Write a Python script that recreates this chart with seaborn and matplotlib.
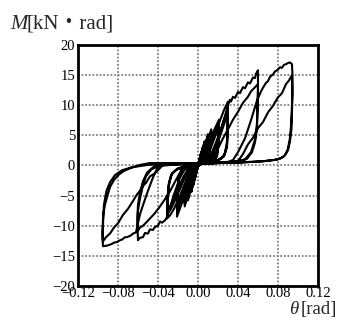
import numpy as np
import pandas as pd
import matplotlib
matplotlib.use("Agg")
import matplotlib.pyplot as plt
import seaborn as sns

# ---- data (rotation theta [rad], moment M [kN*rad]) ----
theta_a1 = [0, 0.0017, 0.0033, 0.0025, 0.0, -0.0017, -0.0033, -0.0025, 0.0, 0.0017, 0.0033, 0.0025,
            0.0, -0.0017, -0.0033, -0.0025, 0.0]
m_a1 = [0, 1.2, 2.2, 1.3, -0.1, -1.2, -2.4, -1.4, 0.1, 1.1, 2.1, 1.2, -0.1, -1.2, -2.3, -1.3, 0.0]

theta_a2 = [0.0025, 0.005, 0.004, 0.0, -0.0025, -0.005, -0.004, 0.0, 0.0025, 0.005, 0.004, 0.0,
            -0.0025, -0.005, -0.004, 0.0]
m_a2 = [1.6, 3.1, 1.8, 0.0, -1.6, -3.4, -2.0, 0.1, 1.5, 3.0, 1.7, 0.0, -1.5, -3.3, -1.9, 0.1]

theta_a3 = [0.003, 0.0067, 0.0055, 0.002, -0.001, -0.004, -0.0067, -0.0055, -0.002, 0.001, 0.004,
            0.0067, 0.0055, 0.002, -0.001, -0.004, -0.0067, -0.0055, -0.002, 0.0]
m_a3 = [1.8, 4.0, 2.2, 0.3, -0.3, -2.4, -4.4, -2.4, -0.3, 0.3, 2.3, 3.9, 2.1, 0.3, -0.3, -2.5,
        -4.3, -2.3, -0.2, 0.1]

theta_a4 = [0.004, 0.007, 0.010, 0.0088, 0.006, 0.0, -0.003, -0.0065, -0.010, -0.0088, -0.006, 0.0,
            0.003, 0.0065, 0.010, 0.0088, 0.006, 0.0, -0.003, -0.0065, -0.010, -0.0088, -0.006, 0.0,
            0.003, 0.0065, 0.010, 0.0088, 0.006, 0.0, -0.003, -0.0065, -0.010, -0.0088, -0.006, -0.001]
m_a4 = [1.6, 3.4, 5.2, 2.6, 0.6, 0.2, -0.8, -3.4, -5.8, -2.9, -0.6, -0.1,
        0.9, 3.0, 4.9, 2.4, 0.5, 0.2, -0.9, -3.3, -5.5, -2.7, -0.5, -0.1,
        0.9, 2.9, 4.8, 2.3, 0.5, 0.2, -0.9, -3.2, -5.4, -2.6, -0.5, -0.1]

theta_a5 = [0.003, 0.008, 0.0133, 0.012, 0.009, 0.003, -0.003, -0.008, -0.0133, -0.012, -0.009, -0.003,
            0.004, 0.009, 0.0133, 0.012, 0.009, 0.003, -0.004, -0.009, -0.0133, -0.012, -0.009, -0.003,
            0.005, 0.010, 0.0133, 0.012, 0.009, 0.003, -0.005, -0.010, -0.0133, -0.012, -0.009, -0.002]
m_a5 = [0.5, 3.2, 6.0, 3.0, 0.7, 0.2, -0.5, -3.6, -6.8, -3.4, -0.7, -0.1,
        0.5, 2.9, 5.6, 2.8, 0.7, 0.3, -0.6, -3.7, -6.4, -3.2, -0.6, 0.0,
        0.7, 3.6, 5.4, 2.7, 0.6, 0.3, -0.7, -4.0, -6.2, -3.0, -0.6, 0.0]

theta_a6 = [0.004, 0.010, 0.016, 0.021, 0.0205, 0.019, 0.016, 0.008, 0.0, -0.005, -0.011, -0.016,
            -0.021, -0.0205, -0.019, -0.016, -0.008, 0.0,
            0.006, 0.012, 0.017, 0.021, 0.0205, 0.019, 0.016, 0.008, 0.0, -0.007, -0.013, -0.018,
            -0.021, -0.0205, -0.019, -0.015, -0.007, 0.0,
            0.008, 0.013, 0.018, 0.021, 0.0205, 0.019, 0.015, 0.007, 0.0, -0.008, -0.014, -0.018,
            -0.021, -0.0205, -0.019, -0.015, -0.007, 0.0]
m_a6 = [0.6, 3.3, 5.8, 7.6, 4.5, 1.8, 0.8, 0.4, 0.2, -0.6, -3.5, -6.2, -8.5, -5.0, -2.0, -0.8, -0.3, 0.1,
        0.7, 3.2, 5.4, 6.8, 4.0, 1.6, 0.7, 0.4, 0.2, -0.7, -3.5, -6.0, -7.6, -4.5, -1.8, -0.7, -0.2, 0.1,
        0.8, 3.0, 5.2, 6.5, 3.8, 1.5, 0.7, 0.4, 0.2, -0.8, -3.6, -5.8, -7.2, -4.2, -1.7, -0.6, -0.2, 0.1]

theta_003 = [0.002, 0.007, 0.012, 0.017, 0.022, 0.026, 0.030, 0.0298, 0.029, 0.027, 0.023, 0.015, 0.0,
             -0.004, -0.009, -0.014, -0.019, -0.024, -0.028, -0.031, -0.0305, -0.029, -0.027, -0.022,
             -0.012, 0.0,
             0.008, 0.013, 0.018, 0.022, 0.026, 0.030, 0.0297, 0.029, 0.026, 0.020, 0.010, 0.0,
             -0.008, -0.013, -0.018, -0.023, -0.027, -0.031, -0.0305, -0.029, -0.026, -0.020, -0.010, 0.0,
             0.010, 0.015, 0.020, 0.024, 0.027, 0.030, 0.0297, 0.029, 0.026, 0.020, 0.010, 0.0,
             -0.010, -0.015, -0.020, -0.024, -0.028, -0.031, -0.0305, -0.029, -0.026, -0.020, -0.010, 0.0]
m_003 = [0.3, 1.2, 3.0, 5.2, 7.4, 9.2, 10.6, 7.5, 4.0, 2.0, 1.1, 0.6, 0.3,
         -0.4, -1.6, -3.4, -5.4, -7.2, -8.3, -8.8, -6.2, -3.3, -1.6, -0.7, -0.1, 0.2,
         0.5, 1.8, 3.8, 5.6, 7.6, 9.2, 6.3, 3.3, 1.6, 0.9, 0.5, 0.3,
         -0.6, -2.0, -3.9, -5.8, -7.2, -8.1, -5.8, -3.0, -1.4, -0.5, 0.0, 0.2,
         0.6, 1.9, 3.9, 5.8, 7.3, 8.7, 5.9, 3.0, 1.5, 0.8, 0.5, 0.3,
         -0.6, -2.0, -3.9, -5.5, -6.9, -7.6, -5.4, -2.8, -1.3, -0.5, 0.0, 0.3]

theta_006 = [0.0, 0.008, 0.015, 0.022, 0.027, 0.030, 0.032, 0.033, 0.035, 0.037, 0.040, 0.042,
             0.045, 0.047, 0.050, 0.052, 0.055, 0.057, 0.058, 0.060,
             0.0600, 0.0595, 0.059, 0.057, 0.054, 0.049, 0.040, 0.020, 0.0, -0.008,
             -0.012, -0.018, -0.024, -0.028, -0.031, -0.033, -0.036, -0.038, -0.040, -0.043, -0.045,
             -0.048, -0.050, -0.053, -0.055, -0.058, -0.060,
             -0.0605, -0.060, -0.058, -0.055, -0.052, -0.047, -0.040, -0.020, 0.0, 0.012,
             0.015, 0.020, 0.025, 0.030, 0.035, 0.040, 0.045, 0.050, 0.053, 0.056, 0.060,
             0.0598, 0.059, 0.057, 0.053, 0.047, 0.035, 0.0, -0.015,
             -0.018, -0.023, -0.028, -0.033, -0.038, -0.043, -0.048, -0.052, -0.055, -0.058, -0.060,
             -0.0605, -0.060, -0.058, -0.055, -0.051, -0.045, -0.035, 0.0, 0.030]
m_006 = [0.3, 0.8, 2.2, 5.2, 8.2, 10.0, 10.9, 10.6, 11.4, 11.2, 12.2, 12.0,
         13.0, 12.8, 13.8, 13.6, 14.6, 14.5, 15.2, 15.8,
         12.5, 9.0, 6.0, 3.8, 2.2, 1.1, 0.6, 0.4, 0.2, 0.1,
         -0.3, -2.0, -4.8, -7.0, -8.6, -9.1, -9.5, -9.3, -10.0, -10.2, -10.7, -10.6, -11.3, -11.2,
         -11.9, -12.0, -12.4,
         -10.0, -7.5, -5.5, -3.3, -1.8, -0.7, -0.1, 0.2, 0.3, 0.5,
         1.3, 2.8, 4.5, 6.0, 7.6, 8.9, 10.4, 11.4, 12.3, 12.8, 13.5,
         10.5, 7.0, 4.3, 2.2, 1.0, 0.6, 0.3, 0.0,
         -1.2, -2.7, -4.3, -5.6, -6.8, -7.9, -8.8, -9.5, -10.0, -10.3, -10.8,
         -8.5, -6.5, -4.5, -2.6, -1.2, -0.3, 0.1, 0.4, 0.6]

theta_009 = [0.035, 0.040, 0.047, 0.053, 0.0587, 0.063, 0.065, 0.068, 0.070, 0.072, 0.075, 0.077,
             0.080, 0.082, 0.084, 0.086, 0.088, 0.090, 0.092, 0.094, 0.0945,
             0.0943, 0.0938, 0.093, 0.0918, 0.0898, 0.087, 0.083, 0.076, 0.065, 0.045, 0.020,
             0.0, -0.020, -0.035,
             -0.040, -0.045, -0.050, -0.055, -0.058, -0.062, -0.065, -0.067, -0.071, -0.073,
             -0.076, -0.078, -0.081, -0.084, -0.086, -0.089, -0.091, -0.095,
             -0.0955, -0.095, -0.0945, -0.093, -0.090, -0.088, -0.084, -0.079, -0.074, -0.067,
             -0.058, -0.048, -0.030, 0.0, 0.030, 0.040,
             0.045, 0.050, 0.055, 0.060, 0.065, 0.070, 0.075, 0.080, 0.084, 0.088, 0.091, 0.094,
             0.0945, 0.094, 0.0935, 0.092, 0.090, 0.086, 0.080, 0.065, 0.040, 0.0, -0.035,
             -0.040, -0.044, -0.048, -0.052, -0.055, -0.058, -0.061, -0.065, -0.070, -0.075,
             -0.080, -0.084, -0.088, -0.092, -0.095,
             -0.0955, -0.095, -0.094, -0.0915, -0.088, -0.083, -0.076, -0.066, -0.050, -0.030, 0.0]
m_009 = [0.9, 2.2, 4.5, 7.5, 10.6, 12.3, 12.9, 13.7, 14.0, 14.7, 15.1, 15.6,
         15.9, 16.3, 16.2, 16.7, 16.8, 17.0, 17.1, 16.8, 15.0,
         12.0, 9.0, 6.5, 4.4, 2.7, 1.7, 1.2, 0.9, 0.7, 0.5, 0.4,
         0.3, 0.3, 0.3,
         -0.2, -2.0, -4.2, -6.6, -8.1, -11.1, -11.3, -11.6, -11.9, -11.9,
         -12.3, -12.4, -12.7, -12.8, -13.0, -13.2, -13.3, -13.4,
         -12.0, -10.0, -8.0, -6.5, -4.7, -3.6, -2.4, -1.5, -0.9, -0.4,
         0.1, 0.4, 0.4, 0.4, 0.5, 0.7,
         1.9, 3.5, 4.6, 6.2, 7.2, 8.8, 9.9, 11.3, 12.0, 13.5, 14.1, 15.0,
         12.0, 9.0, 6.0, 4.0, 2.5, 1.5, 1.0, 0.7, 0.5, 0.3, 0.1,
         -0.8, -1.4, -1.8, -2.9, -3.4, -4.2, -4.8, -5.9, -7.2, -8.2,
         -9.6, -10.3, -11.3, -11.9, -12.6,
         -11.0, -9.0, -6.5, -4.2, -2.8, -1.6, -0.8, -0.3, 0.1, 0.2, 0.3]

x_ticks = [-0.12, -0.08, -0.04, 0.00, 0.04, 0.08, 0.12]
x_tick_labels = ["\u22120.12", "\u22120.08", "\u22120.04", "0.00", "0.04", "0.08", "0.12"]
y_ticks = [-20, -15, -10, -5, 0, 5, 10, 15, 20]
y_tick_labels = ["\u221220", "\u221215", "\u221210", "\u22125", "0", "5", "10", "15", "20"]

# ---- build the ordered load history ----
theta_all = theta_a1 + theta_a2 + theta_a3 + theta_a4 + theta_a5 + theta_a6 + theta_003 + theta_006 + theta_009
m_all = m_a1 + m_a2 + m_a3 + m_a4 + m_a5 + m_a6 + m_003 + m_006 + m_009
df = pd.DataFrame({"theta": theta_all, "M": m_all, "step": np.arange(len(theta_all))})

sns.set_style("white")
plt.rcParams["font.family"] = ["Liberation Serif", "Noto Sans CJK JP", "DejaVu Sans"]

fig = plt.figure(figsize=(3.39, 3.21), dpi=100)
ax = fig.add_axes([0.230, 0.109, 0.708, 0.751])

sns.lineplot(data=df, x="theta", y="M", sort=False, estimator=None, color="black",
             linewidth=1.5, ax=ax, legend=False)

ax.set_xlim(-0.12, 0.12)
ax.set_ylim(-20, 20)
ax.set_xticks(x_ticks)
ax.set_xticklabels(x_tick_labels)
ax.set_yticks(y_ticks)
ax.set_yticklabels(y_tick_labels)
ax.tick_params(axis="both", length=0, labelsize=10.5, colors="black")
ax.tick_params(axis="x", pad=1)
ax.tick_params(axis="y", pad=2)
ax.grid(True, color="#808080", linestyle=(0, (1, 1)), linewidth=1.3)
ax.set_axisbelow(True)
for s in ax.spines.values():
    s.set_visible(True)
    s.set_color("black")
    s.set_linewidth(2.0)
ax.set_xlabel("")
ax.set_ylabel("")

# axis titles
fig.text(10 / 339, 1 - 29 / 321, "M", fontsize=15, style="italic", va="baseline", ha="left")
fig.text(27 / 339, 1 - 29 / 321, "[kN・rad]", fontsize=15, va="baseline", ha="left")
fig.text(289 / 339, 1 - 314 / 321, "θ", fontsize=13.5, style="italic", va="baseline", ha="left")
fig.text(301 / 339, 1 - 314 / 321, "[rad]", fontsize=13.5, va="baseline", ha="left")

fig.savefig("out.png", dpi=100)
